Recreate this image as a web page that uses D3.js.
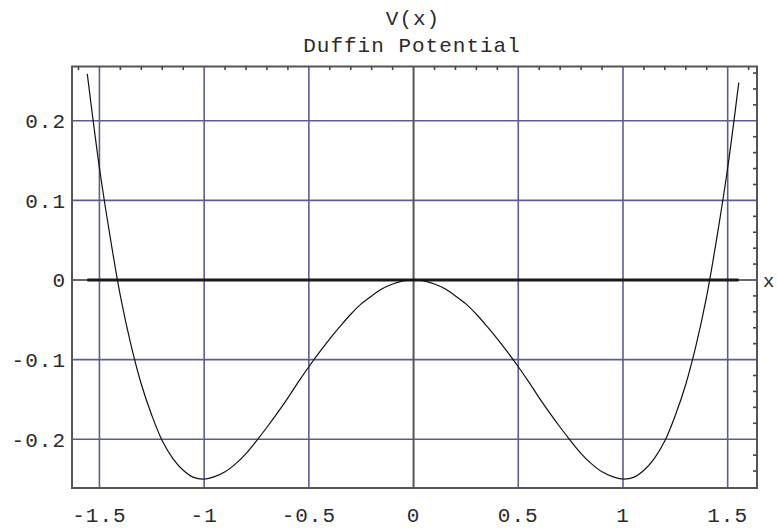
<!DOCTYPE html>
<html>
<head>
<meta charset="utf-8">
<script src="https://cdn.jsdelivr.net/npm/d3@7"></script>
<style>
  html, body { margin: 0; padding: 0; background: #fff; }
  svg { display: block; }
  text { font-family: "Liberation Mono", "DejaVu Sans Mono", monospace; fill: #2a2a2a; letter-spacing: 1px; }
</style>
</head>
<body>
<svg id="chart" width="778" height="529"></svg>
<script>
// Title lines
const titleLines = ["V(x)", "Duffin Potential"];
const xAxisLabel = "x";

// Curve samples (x, V)
const curveX = [-1.558, -1.5, -1.45, -1.4, -1.35, -1.3, -1.25, -1.2, -1.15, -1.1, -1.05, -1.0,
                -0.95, -0.9, -0.85, -0.8, -0.75, -0.7, -0.65, -0.6, -0.55, -0.5, -0.45, -0.4,
                -0.35, -0.3, -0.25, -0.2, -0.15, -0.1, -0.05, 0,
                0.05, 0.1, 0.15, 0.2, 0.25, 0.3, 0.35, 0.4, 0.45, 0.5, 0.55, 0.6, 0.65, 0.7,
                0.75, 0.8, 0.85, 0.9, 0.95, 1.0, 1.05, 1.1, 1.15, 1.2, 1.25, 1.3, 1.35, 1.4,
                1.45, 1.5, 1.553];
const curveV = [0.259, 0.141, 0.056, -0.020, -0.081, -0.131, -0.170, -0.202, -0.224, -0.239, -0.248, -0.250,
                -0.247, -0.241, -0.231, -0.218, -0.202, -0.185, -0.167, -0.148, -0.128, -0.109, -0.091, -0.074,
                -0.058, -0.043, -0.030, -0.020, -0.011, -0.005, -0.001, 0,
                -0.001, -0.005, -0.011, -0.020, -0.030, -0.043, -0.058, -0.074, -0.091, -0.109, -0.128, -0.148, -0.167, -0.185,
                -0.202, -0.218, -0.231, -0.241, -0.247, -0.250, -0.248, -0.239, -0.224, -0.202, -0.170, -0.131, -0.081, -0.020,
                0.056, 0.141, 0.248];

// Zero reference line (second plotted function), spanning the plotted range
const zeroLineX = [-1.558, 1.553];
const zeroLineV = [0, 0];

// Ticks
const xTicks = [-1.5, -1, -0.5, 0, 0.5, 1, 1.5];
const xTickLabels = ["-1.5", "-1", "-0.5", "0", "0.5", "1", "1.5"];
const yTicks = [-0.2, -0.1, 0, 0.1, 0.2];
const yTickLabels = ["-0.2", "-0.1", "0", "0.1", "0.2"];
const xMinorTicks = [-1.6, -1.4, -1.3, -1.2, -1.1, -0.9, -0.8, -0.7, -0.6, -0.4, -0.3, -0.2, -0.1,
                     0.1, 0.2, 0.3, 0.4, 0.6, 0.7, 0.8, 0.9, 1.1, 1.2, 1.3, 1.4, 1.6];
const yMinorTicks = [-0.26, -0.24, -0.22, -0.18, -0.16, -0.14, -0.12, -0.08, -0.06, -0.04, -0.02,
                     0.02, 0.04, 0.06, 0.08, 0.12, 0.14, 0.16, 0.18, 0.22, 0.24, 0.26];

const W = 778, H = 529;
const frame = { left: 72, right: 757, top: 66.5, bottom: 488 };

const x = d3.scaleLinear().domain([-1.631, 1.640]).range([frame.left, frame.right]);
const y = d3.scaleLinear().domain([-0.2613, 0.2682]).range([frame.bottom, frame.top]);

const svg = d3.select("#chart");
const FS = 21;

// Title
svg.append("text").attr("x", 413).attr("y", 25).attr("text-anchor", "middle")
  .attr("font-size", FS).text(titleLines[0]);
svg.append("text").attr("x", 412).attr("y", 52).attr("text-anchor", "middle")
  .attr("font-size", FS).text(titleLines[1]);

const gridColor = "#5b5b98";

// Grid lines
const grid = svg.append("g");
grid.selectAll("line.gx").data(xTicks.filter(d => d !== 0)).join("line")
  .attr("x1", d => x(d)).attr("x2", d => x(d))
  .attr("y1", frame.top).attr("y2", frame.bottom)
  .attr("stroke", gridColor).attr("stroke-width", 1.6);
grid.selectAll("line.gy").data(yTicks.filter(d => d !== 0)).join("line")
  .attr("y1", d => y(d)).attr("y2", d => y(d))
  .attr("x1", frame.left).attr("x2", frame.right)
  .attr("stroke", gridColor).attr("stroke-width", 1.6);

// Axes through origin
svg.append("line").attr("x1", x(0)).attr("x2", x(0)).attr("y1", frame.top).attr("y2", frame.bottom)
  .attr("stroke", "#555").attr("stroke-width", 2);
svg.append("line").attr("x1", frame.left).attr("x2", frame.right).attr("y1", y(0)).attr("y2", y(0))
  .attr("stroke", "#333").attr("stroke-width", 1.5);

// Zero function line (thick)
const zeroData = zeroLineX.map((d, i) => [d, zeroLineV[i]]);
svg.append("path").datum(zeroData)
  .attr("d", d3.line().x(d => x(d[0])).y(d => y(d[1])))
  .attr("stroke", "#1a1a1a").attr("stroke-width", 3.2).attr("fill", "none");

// Curve
const curveData = curveX.map((d, i) => [d, curveV[i]]);
svg.append("path").datum(curveData)
  .attr("d", d3.line().x(d => x(d[0])).y(d => y(d[1])).curve(d3.curveCatmullRom.alpha(0.5)))
  .attr("stroke", "#111").attr("stroke-width", 1.2).attr("fill", "none");

// Frame
svg.append("rect").attr("x", frame.left).attr("y", frame.top)
  .attr("width", frame.right - frame.left).attr("height", frame.bottom - frame.top)
  .attr("fill", "none").attr("stroke", "#555").attr("stroke-width", 2);

// Minor ticks on top and right edges (pointing inward)
svg.append("g").selectAll("line").data(xMinorTicks.filter(d => x(d) > frame.left + 2 && x(d) < frame.right - 2)).join("line")
  .attr("x1", d => x(d)).attr("x2", d => x(d))
  .attr("y1", frame.top).attr("y2", frame.top + 3.5)
  .attr("stroke", "#444").attr("stroke-width", 1.6);
svg.append("g").selectAll("line").data(yMinorTicks.filter(d => y(d) > frame.top + 2 && y(d) < frame.bottom - 2)).join("line")
  .attr("y1", d => y(d)).attr("y2", d => y(d))
  .attr("x1", frame.right - 4).attr("x2", frame.right)
  .attr("stroke", "#444").attr("stroke-width", 1.6);

// Tick labels
svg.append("g").selectAll("text").data(xTicks).join("text")
  .attr("x", d => x(d)).attr("y", 522).attr("text-anchor", "middle")
  .attr("font-size", FS).text((d, i) => xTickLabels[i]);
svg.append("g").selectAll("text").data(yTicks).join("text")
  .attr("x", 66).attr("y", d => y(d)).attr("dy", "0.35em").attr("text-anchor", "end")
  .attr("font-size", FS).text((d, i) => yTickLabels[i]);

// Axis label at the right edge
svg.append("text").attr("x", 763).attr("y", y(0)).attr("dy", "0.35em")
  .attr("font-size", 19).style("letter-spacing", "0px").text(xAxisLabel);
</script>
</body>
</html>
